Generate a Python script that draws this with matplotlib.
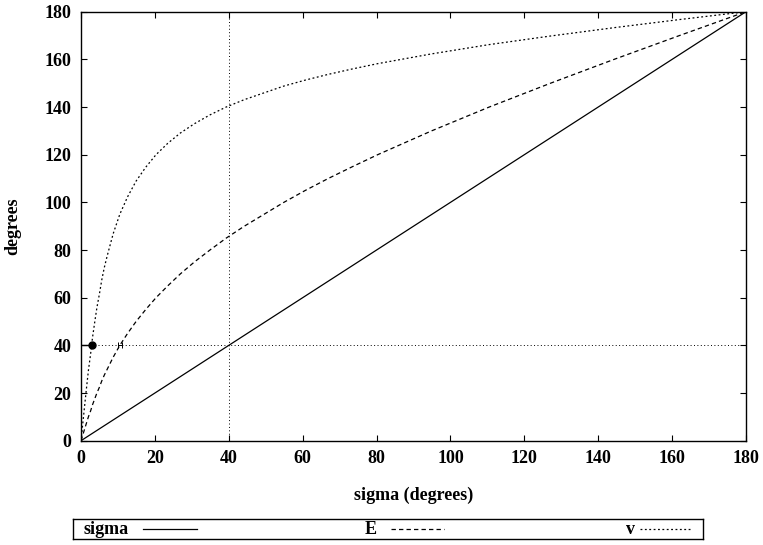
import matplotlib
matplotlib.use("Agg")
import matplotlib.pyplot as plt
import numpy as np

plt.rcParams['font.family'] = ['Liberation Serif', 'DejaVu Serif']
plt.rcParams['font.weight'] = 'bold'
plt.rcParams['font.size'] = 13

# mean anomaly sigma (deg) and the matching E and v values
sigma = [0, 0.5, 1.0, 1.5, 2.0, 2.6, 3.1, 3.7, 4.3, 5.0, 5.6, 6.3, 7.1, 8.7,
         10.5, 12.6, 14.9, 17.5, 20.3, 23.5, 26.9, 30.7, 34.9, 39.3, 44.2,
         54.9, 60.7, 66.9, 73.5, 80.3, 94.9, 110.5, 127.1, 144.3, 162.0, 180]
E_vals = [0, 2.5, 5, 7.5, 10, 12.5, 15, 17.5, 20, 22.5, 25, 27.5, 30, 35,
          40, 45, 50, 55, 60, 65, 70, 75, 80, 85, 90,
          100, 105, 110, 115, 120, 130, 140, 150, 160, 170, 180]
v_vals = [0, 7.5, 14.9, 22.3, 29.4, 36.4, 43.1, 49.6, 55.8, 61.7, 67.3, 72.6, 77.6, 86.8,
          95.0, 102.3, 108.9, 114.7, 120.0, 124.8, 129.1, 133.0, 136.7, 140.0, 143.1,
          148.8, 151.3, 153.7, 156.0, 158.2, 162.3, 166.2, 169.8, 173.3, 176.7, 180]

# marked point and reference level
ref_level = 40
dot_sigma = 3.1
err_sigma = 10.5

fig = plt.figure(figsize=(7.63, 5.45), dpi=100)
W, H = 763, 545
ax = fig.add_axes([81 / W, 1 - 440.7 / H, 665 / W, 429 / H])

ax.plot(sigma, sigma, color='black', lw=0.9)
ax.plot(sigma, E_vals, color='black', lw=0.9, dashes=(3.5, 2.5))
ax.plot(sigma, v_vals, color='black', lw=0.9, dashes=(1.5, 2))

ax.axhline(ref_level, color='black', lw=0.7, dashes=(1, 2.5))
ax.axvline(ref_level, color='black', lw=0.7, dashes=(1, 2.5))

ax.plot([0, dot_sigma], [ref_level, ref_level], color='black', lw=1.0)
ax.plot([dot_sigma], [ref_level], 'o', color='black', ms=5)
ax.errorbar([err_sigma], [ref_level], xerr=0.6, color='black', lw=0.7, capsize=2.5,
            capthick=0.7)

ax.set_xlim(0, 180)
ax.set_ylim(0, 180)
ax.set_xticks(np.arange(0, 181, 20))
ax.set_yticks(np.arange(0, 181, 20))
ax.tick_params(direction='in', length=4.5, width=0.8, top=True, right=True,
               labelsize=13, pad=7)
for lab in ax.get_xticklabels() + ax.get_yticklabels():
    lab.set_fontweight('bold')
for s in ax.spines.values():
    s.set_linewidth(1.0)

ax.set_xlabel('sigma (degrees)', fontsize=13, fontweight='bold', labelpad=14)
ax.set_ylabel('degrees', fontsize=13, fontweight='bold', labelpad=17)

# legend box drawn below the plot
lg = fig.add_axes([73 / W, 1 - 539 / H, 630 / W, 20 / H])
lg.set_xlim(0, 630)
lg.set_ylim(0, 20)
lg.set_xticks([])
lg.set_yticks([])
for s in lg.spines.values():
    s.set_linewidth(1.0)

lg.text(10, 9, 'sigma', ha='left', va='center', fontsize=13, fontweight='bold')
lg.plot([70, 124], [10, 10], color='black', lw=0.9)
lg.text(292, 9, 'E', ha='left', va='center', fontsize=13, fontweight='bold')
lg.plot([318, 371], [10, 10], color='black', lw=0.9, dashes=(3.5, 2.5))
lg.text(553, 9, 'v', ha='left', va='center', fontsize=13, fontweight='bold')
lg.plot([567, 617], [10, 10], color='black', lw=0.9, dashes=(1.5, 2))

fig.savefig('out.png', dpi=100)
